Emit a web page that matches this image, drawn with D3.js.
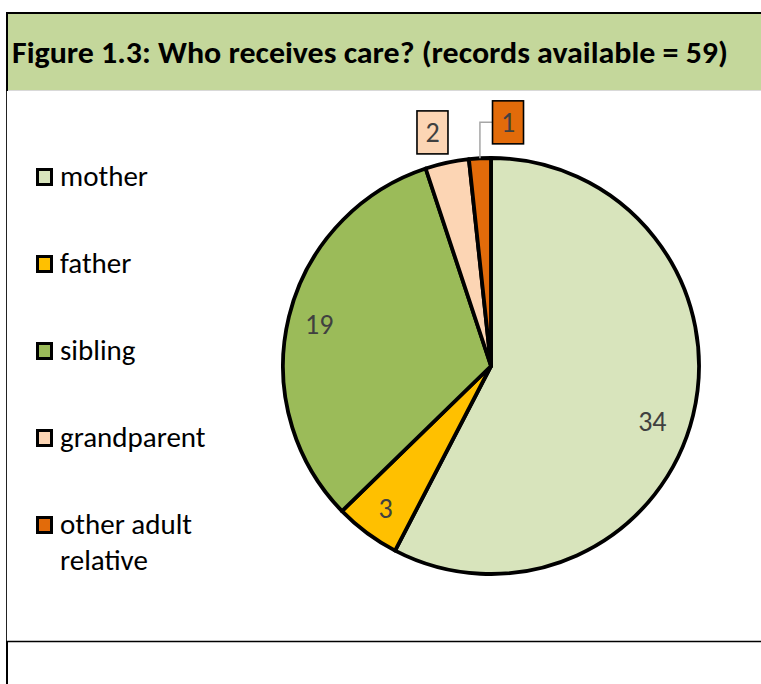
<!DOCTYPE html>
<html><head><meta charset="utf-8">
<script src="https://cdn.jsdelivr.net/npm/d3@7"></script>
<style>body{margin:0;background:#fff} svg{display:block}</style></head>
<body>
<svg id="c" width="761" height="684"></svg>
<script>
const categories = ["mother", "father", "sibling", "grandparent", "other adult relative"];
const legendLines = [["mother"], ["father"], ["sibling"], ["grandparent"], ["other adult", "relative"]];
const values = [34, 3, 19, 2, 1];
const colors = ["#d8e4bc", "#ffc000", "#9bbb59", "#fcd5b4", "#e26b0a"];
const titleText = "Figure 1.3: Who receives care? (records available = 59)";

const FONT = "Carlito, Lato, 'Open Sans', sans-serif";
const svg = d3.select("#c");

// frame
svg.append("rect").attr("x", 6).attr("y", 13).attr("width", 760).attr("height", 77).attr("fill", "#c4d79b");
svg.append("line").attr("x1", 6).attr("x2", 761).attr("y1", 90.5).attr("y2", 90.5).attr("stroke", "#d9d9d9").attr("stroke-width", 1);
svg.append("line").attr("x1", 6).attr("x2", 761).attr("y1", 13).attr("y2", 13).attr("stroke", "#000").attr("stroke-width", 2);
svg.append("line").attr("x1", 7).attr("x2", 7).attr("y1", 12).attr("y2", 91).attr("stroke", "#000").attr("stroke-width", 2);
svg.append("line").attr("x1", 6.5).attr("x2", 6.5).attr("y1", 91).attr("y2", 641).attr("stroke", "#222").attr("stroke-width", 1);
svg.append("line").attr("x1", 6).attr("x2", 761).attr("y1", 641.5).attr("y2", 641.5).attr("stroke", "#000").attr("stroke-width", 1.3);
svg.append("line").attr("x1", 7).attr("x2", 7).attr("y1", 641).attr("y2", 684).attr("stroke", "#000").attr("stroke-width", 2);

svg.append("text").attr("x", 12).attr("y", 63)
  .attr("font-family", FONT).attr("font-weight", "bold").attr("font-size", 31)
  .attr("textLength", 716).attr("lengthAdjust", "spacingAndGlyphs")
  .attr("fill", "#000").text(titleText);

// legend
const legendY = d3.scalePoint().domain(categories).range([177, 525]);
const lg = svg.append("g").selectAll("g").data(categories).join("g")
  .attr("transform", d => `translate(0,${legendY(d)})`);
lg.append("rect").attr("x", 37.5).attr("y", -7.5).attr("width", 14).attr("height", 15)
  .attr("fill", (d, i) => colors[i]).attr("stroke", "#000").attr("stroke-width", 3);
lg.append("text").attr("font-family", FONT).attr("font-size", 29).attr("fill", "#000")
  .selectAll("tspan").data((d, i) => legendLines[i]).join("tspan")
  .attr("x", 60).attr("y", (d, j) => 9 + j * 36).text(d => d);

// pie
const cx = 491, cy = 366, R = 208;
const pie = d3.pie().sort(null).value(d => d)(values);
const arc = d3.arc().innerRadius(0).outerRadius(R);
const g = svg.append("g").attr("transform", `translate(${cx},${cy})`);
g.selectAll("path").data(pie).join("path")
  .attr("d", arc).attr("fill", (d, i) => colors[i])
  .attr("stroke", "#000").attr("stroke-width", 3.8).attr("stroke-linejoin", "round");

// inside labels: radius fraction and small angular shift (best-fit placement)
const inLab = { 0: { f: 0.82, da: 0.09 }, 1: { f: 0.85, da: 0 }, 2: { f: 0.85, da: 0 } };
const outside = [false, false, false, true, true];
pie.forEach((d, i) => {
  if (outside[i]) return;
  const o = inLab[i];
  const a = (d.startAngle + d.endAngle) / 2 + o.da;
  g.append("text")
    .attr("x", Math.sin(a) * R * o.f).attr("y", -Math.cos(a) * R * o.f)
    .attr("text-anchor", "middle").attr("dy", "0.35em")
    .attr("font-family", FONT).attr("font-size", 28).attr("fill", "#404040")
    .text(d.value);
});

// outside labels with boxes
const outerLab = { 3: { r: R + 31, dx: -8 }, 4: { r: R + 36, dx: 30 } };
const bw = 31, bh = 43;
pie.forEach((d, i) => {
  if (!outside[i]) return;
  const a = (d.startAngle + d.endAngle) / 2;
  const o = outerLab[i];
  const lx = Math.sin(a) * o.r + o.dx, ly = -Math.cos(a) * o.r;
  if (i === 4) {
    const px = Math.sin(a) * R, py = -Math.cos(a) * R;
    g.append("path").attr("d", `M${lx - bw / 2},${ly}H${px}V${py}`)
      .attr("fill", "none").attr("stroke", "#a6a6a6").attr("stroke-width", 1.5);
  }
  g.append("rect").attr("x", lx - bw / 2).attr("y", ly - bh / 2).attr("width", bw).attr("height", bh)
    .attr("fill", colors[i]).attr("stroke", "#000").attr("stroke-width", 1.6);
  g.append("text").attr("x", lx).attr("y", ly).attr("dy", "0.35em").attr("text-anchor", "middle")
    .attr("font-family", FONT).attr("font-size", 28).attr("fill", "#404040").text(d.value);
});
</script>
</body></html>
